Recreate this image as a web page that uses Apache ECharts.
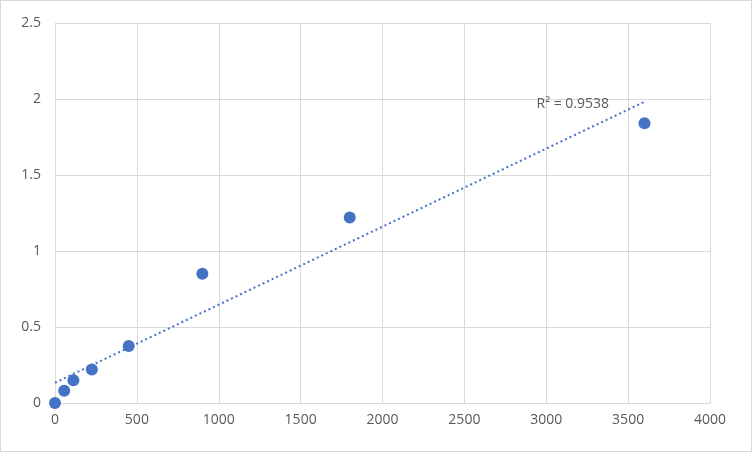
<!DOCTYPE html>
<html>
<head>
<meta charset="utf-8">
<script src="https://cdn.jsdelivr.net/npm/echarts@6/dist/echarts.min.js"></script>
<style>
  html, body { margin: 0; padding: 0; background: #fff; }
  #chart { width: 750px; height: 450px; border: 1px solid #d9d9d9; }
</style>
</head>
<body>
<div id="chart"></div>
<script>
// 数据
var xValues = [0, 56.25, 112.5, 225, 450, 900, 1800, 3600]
var yValues = [0, 0.08, 0.15, 0.22, 0.375, 0.85, 1.22, 1.84]
var rSquaredText = 'R² = 0.9538'

var points = []
for (var i = 0; i < xValues.length; i++) {
  points.push([xValues[i], yValues[i]])
}

// 线性趋势线 (最小二乘)
var n = xValues.length, sx = 0, sy = 0, sxy = 0, sxx = 0
for (var i = 0; i < n; i++) {
  sx += xValues[i]; sy += yValues[i]
  sxy += xValues[i] * yValues[i]; sxx += xValues[i] * xValues[i]
}
var slope = (n * sxy - sx * sy) / (n * sxx - sx * sx)
var intercept = (sy - slope * sx) / n
var xMin = Math.min.apply(null, xValues), xMax = Math.max.apply(null, xValues)
var trend = [[xMin, intercept + slope * xMin], [xMax, intercept + slope * xMax]]

var myChart = echarts.init(document.getElementById('chart'))
var labelStyle = { color: '#595959', fontSize: 14, fontFamily: 'Open Sans' }

var option = {
  animation: false,
  grid: { left: 54, right: 41, top: 22, bottom: 48 },
  xAxis: {
    type: 'value', min: 0, max: 4000, interval: 500,
    axisLine: { show: true, lineStyle: { color: '#d9d9d9' } },
    axisTick: { show: false },
    splitLine: { lineStyle: { color: '#d9d9d9' } },
    axisLabel: Object.assign({ margin: 10, formatter: function (v) { return String(v) } }, labelStyle)
  },
  yAxis: {
    type: 'value', min: 0, max: 2.5, interval: 0.5,
    axisLine: { show: false },
    axisTick: { show: false },
    splitLine: { lineStyle: { color: '#d9d9d9' } },
    axisLabel: Object.assign({ margin: 14 }, labelStyle)
  },
  series: [
    {
      type: 'line',
      data: trend,
      symbol: 'none',
      lineStyle: { color: '#4472C4', width: 2, type: [2, 3] },
      endLabel: {
        show: true,
        formatter: rSquaredText,
        position: 'left',
        offset: [-116, 2],
        color: '#595959', fontSize: 14, fontFamily: 'Open Sans'
      },
      z: 1
    },
    {
      type: 'scatter',
      data: points,
      symbolSize: 12,
      itemStyle: { color: '#4472C4', opacity: 1 },
      z: 2
    }
  ]
}
myChart.setOption(option)
</script>
</body>
</html>
